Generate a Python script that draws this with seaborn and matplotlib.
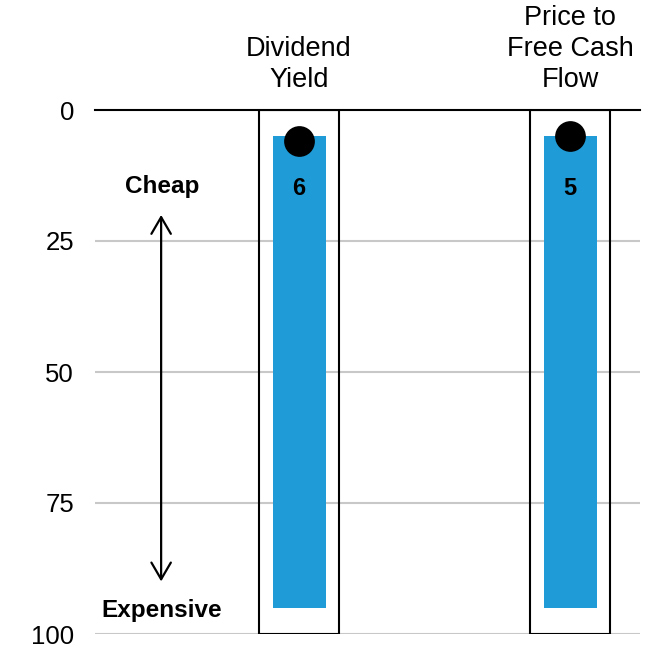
import numpy as np
import matplotlib
matplotlib.use("Agg")
import matplotlib.pyplot as plt
import seaborn as sns
import pandas as pd

categories = ["Dividend\nYield", "Price to\nFree Cash\nFlow"]
range_low = [5, 5]
range_high = [95, 95]
percentile = [6, 5]
y_ticks = [0, 25, 50, 75, 100]

sns.set_theme(style="white")
plt.rcParams["font.family"] = ["Liberation Sans", "DejaVu Sans"]
plt.rcParams["text.color"] = "black"
plt.rcParams["xtick.color"] = "black"
plt.rcParams["ytick.color"] = "black"

df = pd.DataFrame({"category": categories, "low": range_low,
                   "high": range_high, "value": percentile})
df["x"] = np.arange(len(df)) + 1

fig = plt.figure(figsize=(6.5, 6.48), dpi=100)
ax = fig.add_axes([95 / 650, 14 / 648, 545 / 650, 524 / 648])

# horizontal reference lines
for t in y_ticks[1:]:
    ax.axhline(t, color="#c8c8c8", lw=1.5, zorder=0)

# outline boxes spanning the full scale
ax.bar(df["x"], 100, width=0.295, bottom=0, facecolor="none",
       edgecolor="black", lw=1.5, zorder=1)
# historical range bars
ax.bar(df["x"], df["high"] - df["low"], width=0.196, bottom=df["low"],
       color="#1f9bd7", zorder=2, linewidth=0)

sns.scatterplot(data=df, x="x", y="value", s=420, color="black",
                edgecolor="black", zorder=3, ax=ax, legend=False)

for xi, v in zip(df["x"], df["value"]):
    ax.text(xi, 14.9, f"{v}", ha="center", va="center", fontsize=17,
            fontweight="bold", color="black", zorder=4)

# cheap / expensive guide
ax_x = 0.491
ax.annotate("", xy=(ax_x, 19.5), xytext=(ax_x, 90.5),
            arrowprops=dict(arrowstyle="<->,head_length=0.6,head_width=0.35",
                            color="black", lw=1.6, mutation_scale=20))
ax.text(ax_x + 0.003, 14.6, "Cheap", ha="center", va="center",
        fontsize=17.5, fontweight="bold", color="black")
ax.text(ax_x + 0.003, 95.5, "Expensive", ha="center", va="center",
        fontsize=17.5, fontweight="bold", color="black")

ax.set_xlim(0.247, 2.258)
ax.set_ylim(100, 0)
ax.set_yticks(y_ticks)
ax.set_yticklabels([str(t) for t in y_ticks], fontsize=18.5)
ax.tick_params(axis="y", length=0, pad=15)

ax.xaxis.tick_top()
ax.set_xticks(df["x"])
ax.set_xticklabels(df["category"], fontsize=19.5, linespacing=1.25)
ax.tick_params(axis="x", length=0, pad=12)
ax.set_xlabel("")
ax.set_ylabel("")

for side in ["left", "right", "bottom"]:
    ax.spines[side].set_visible(False)
ax.spines["top"].set_color("black")
ax.spines["top"].set_linewidth(1.5)

fig.savefig("out.png", dpi=100, facecolor="white")
